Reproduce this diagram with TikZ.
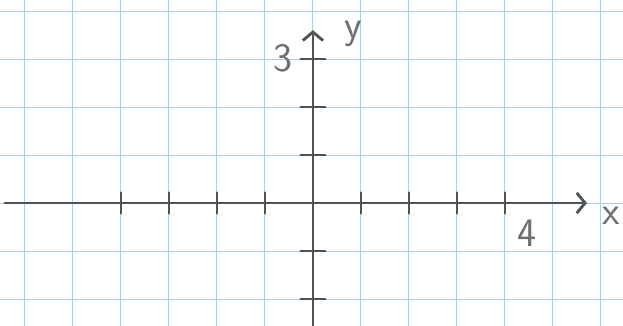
\documentclass[tikz,border=0pt]{standalone}
\usepackage{amsmath, amssymb}
\usetikzlibrary{arrows.meta}
\definecolor{gridblue}{RGB}{158,210,240}
\definecolor{pencilgray}{RGB}{80,84,86}
\definecolor{labelgray}{RGB}{110,113,115}

\begin{document}
\begin{tikzpicture}
            [>={Straight Barb[length=5pt,width=12pt]}, line cap=round,
             axisline/.style={draw=pencilgray, line width=1.7pt},
             tickline/.style={draw=pencilgray, line width=1.4pt},
             handlabel/.style={text=labelgray, font=\sffamily\fontsize{24}{24}\selectfont, inner sep=0pt}]
            \useasboundingbox (-6.52,-2.56) rectangle (6.46,4.23);
            \draw[gridblue, line width=0.6pt] (-6.52,-2.56) grid (6.46,4.23);

            \coordinate (xstart) at (-6.42, 0);
            \coordinate (xend) at (5.71, 0);
            \coordinate (ybottom) at (0, -2.56);
            \coordinate (ytop) at (0, 3.6);

            \draw[axisline, ->] (xstart) -- (xend);
            \draw[axisline, ->] (ybottom) -- (ytop);

            \foreach \x in {-4,-3,-2,-1,1,2,3,4}
                \draw[tickline] (\x, -0.22) -- (\x, 0.22);
            \foreach \y in {-2,-1,1,2,3}
                \draw[tickline] (-0.26, \y) -- (0.26, \y);

            \node[handlabel] (lbl3) at (-0.62, 3.02) {3};
            \node[handlabel] (lbly) at (0.85, 3.52) {y};
            \node[handlabel] (lbl4) at (4.46, -0.62) {4};
            \node[handlabel] (lblx) at (6.22, -0.27) {x};
        \end{tikzpicture}
\end{document}
